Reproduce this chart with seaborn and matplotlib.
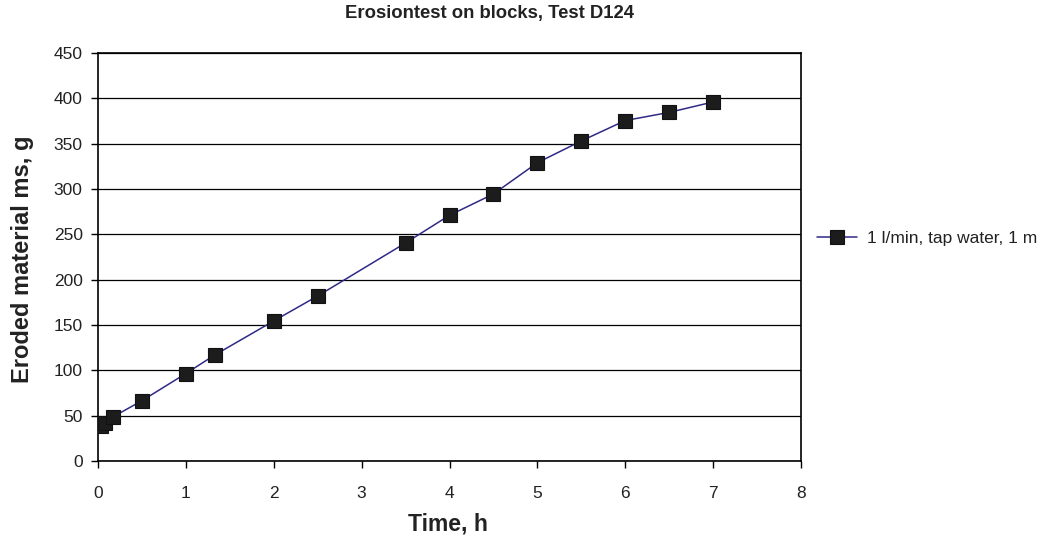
import matplotlib
matplotlib.use("Agg")
import matplotlib.pyplot as plt
import seaborn as sns
import pandas as pd

time_h = [0.03, 0.08, 0.167, 0.5, 1.0, 1.33, 2.0, 2.5, 3.5, 4.0, 4.5, 5.0, 5.5, 6.0, 6.5, 7.0]
eroded_g = [39, 42, 48.5, 66.5, 96.5, 117, 154.5, 182, 240.5, 271, 294.5, 329, 353, 375.5, 384.5, 396]
series_name = "1 l/min, tap water, 1 m"
title = "Erosiontest on blocks, Test D124"
xlabel = "Time, h"
ylabel = "Eroded material ms, g"
xticks = [0, 1, 2, 3, 4, 5, 6, 7, 8]
yticks = [0, 50, 100, 150, 200, 250, 300, 350, 400, 450]

df = pd.DataFrame({"t": time_h, "m": eroded_g, "series": series_name})

sns.set_style("white")
plt.rcParams["font.family"] = ["Liberation Sans", "DejaVu Sans"]

W, H = 1055, 539
fig = plt.figure(figsize=(W / 100, H / 100), dpi=100)
ax = fig.add_axes([98 / W, 1 - 461 / H, (801 - 98) / W, (461 - 53) / H])

sns.lineplot(data=df, x="t", y="m", hue="series", palette=["#2e2a86"],
             marker="s", markersize=9.5, markerfacecolor="#1c1c1c",
             markeredgecolor="#111111", markeredgewidth=0.8, linewidth=1.1,
             ax=ax, zorder=3)

ax.set_xlim(0, 8)
ax.set_ylim(0, 450)
ax.set_xticks(xticks)
ax.set_yticks(yticks)
ax.tick_params(axis="both", direction="out", length=5, width=1, color="black",
               labelsize=12.5, labelcolor="#222222", left=True, bottom=True)
ax.tick_params(axis="x", pad=13)
ax.tick_params(axis="y", pad=6)
ax.yaxis.grid(True, color="black", linewidth=0.9)
ax.xaxis.grid(False)
for s in ax.spines.values():
    s.set_visible(True)
    s.set_color("black")
    s.set_linewidth(1.2)

ax.set_xlabel("")
ax.set_ylabel("")
fig.text(489.5 / W, 1 - 18 / H, title, fontsize=13.3, fontweight="bold",
         ha="center", va="baseline", color="#222222")
fig.text(447.5 / W, 1 - 531 / H, xlabel, fontsize=16.5, fontweight="bold",
         ha="center", va="baseline", color="#222222")
fig.text(23 / W, 1 - 259 / H, ylabel, fontsize=17, fontweight="bold",
         ha="center", va="center", rotation=90, color="#222222")

leg = ax.legend(loc="center left", bbox_to_anchor=(1.0, 0.545), frameon=False,
                fontsize=12.5, handlelength=2.3, handletextpad=0.6)
for t in leg.get_texts():
    t.set_color("#222222")

fig.savefig("out.png", dpi=100)
